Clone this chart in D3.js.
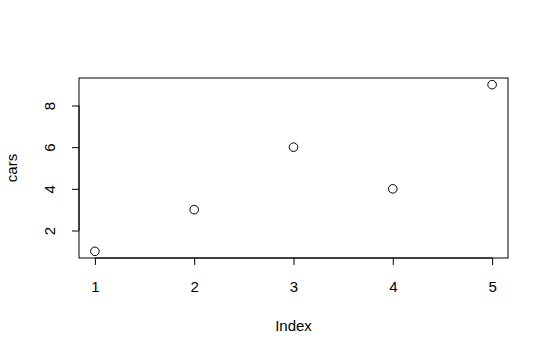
<!DOCTYPE html>
<html>
<head>
<meta charset="utf-8">
<script src="https://cdn.jsdelivr.net/npm/d3@7.9.0/dist/d3.min.js"></script>
<style>
  html, body { margin: 0; padding: 0; background: #fff; }
  svg text { font-family: "Liberation Sans", Arial, sans-serif; font-size: 15px; fill: #000; }
</style>
</head>
<body>
<svg id="chart" width="548" height="356"></svg>
<script>
// data: the "cars" vector plotted against its index
const index = [1, 2, 3, 4, 5];
const cars = [1, 3, 6, 4, 9];
const xTicks = [1, 2, 3, 4, 5];
const yTicks = [2, 4, 6, 8];

const svg = d3.select('#chart');
const plotLeft = 79, plotRight = 508, plotTop = 78, plotBottom = 258;

// R pads the data range by 4% on each side
const pad = (lo, hi) => [lo - (hi - lo) * 0.04, hi + (hi - lo) * 0.04];
const x = d3.scaleLinear().domain(pad(d3.min(index), d3.max(index))).range([plotLeft, plotRight]);
const y = d3.scaleLinear().domain(pad(d3.min(cars), d3.max(cars))).range([plotBottom, plotTop]);

// x axis
const xAxis = svg.append('g')
  .attr('transform', `translate(0,${plotBottom})`)
  .call(d3.axisBottom(x).tickValues(xTicks).tickSize(7).tickFormat(d3.format('d')));
xAxis.select('.domain').attr('d', `M${x(xTicks[0])},0H${x(xTicks[xTicks.length - 1])}`);
xAxis.selectAll('.tick text').attr('y', 34).attr('dy', null);

// y axis, labels rotated like R's default las=0
const yAxis = svg.append('g')
  .attr('transform', `translate(${plotLeft},0)`)
  .call(d3.axisLeft(y).tickValues(yTicks).tickSize(7).tickFormat(d3.format('d')));
yAxis.select('.domain').attr('d', `M0,${y(yTicks[0])}V${y(yTicks[yTicks.length - 1])}`);
yAxis.selectAll('.tick text')
  .attr('x', null).attr('dy', null)
  .attr('text-anchor', 'middle')
  .attr('transform', 'translate(-24,0) rotate(-90)');

svg.selectAll('.domain, .tick line').attr('stroke', '#000').attr('stroke-width', 1);

// plot box
svg.append('rect')
  .attr('x', plotLeft).attr('y', plotTop)
  .attr('width', plotRight - plotLeft).attr('height', plotBottom - plotTop)
  .attr('fill', 'none').attr('stroke', '#000');

// points
svg.append('g').selectAll('circle')
  .data(index.map((d, i) => ({ i: d, v: cars[i] })))
  .join('circle')
  .attr('cx', d => x(d.i))
  .attr('cy', d => y(d.v))
  .attr('r', 4.3)
  .attr('fill', 'none')
  .attr('stroke', '#000');

// axis titles
svg.append('text')
  .attr('x', (plotLeft + plotRight) / 2).attr('y', 331)
  .attr('text-anchor', 'middle')
  .text('Index');

svg.append('text')
  .attr('transform', `translate(17,${(plotTop + plotBottom) / 2}) rotate(-90)`)
  .attr('text-anchor', 'middle')
  .text('cars');
</script>
</body>
</html>
